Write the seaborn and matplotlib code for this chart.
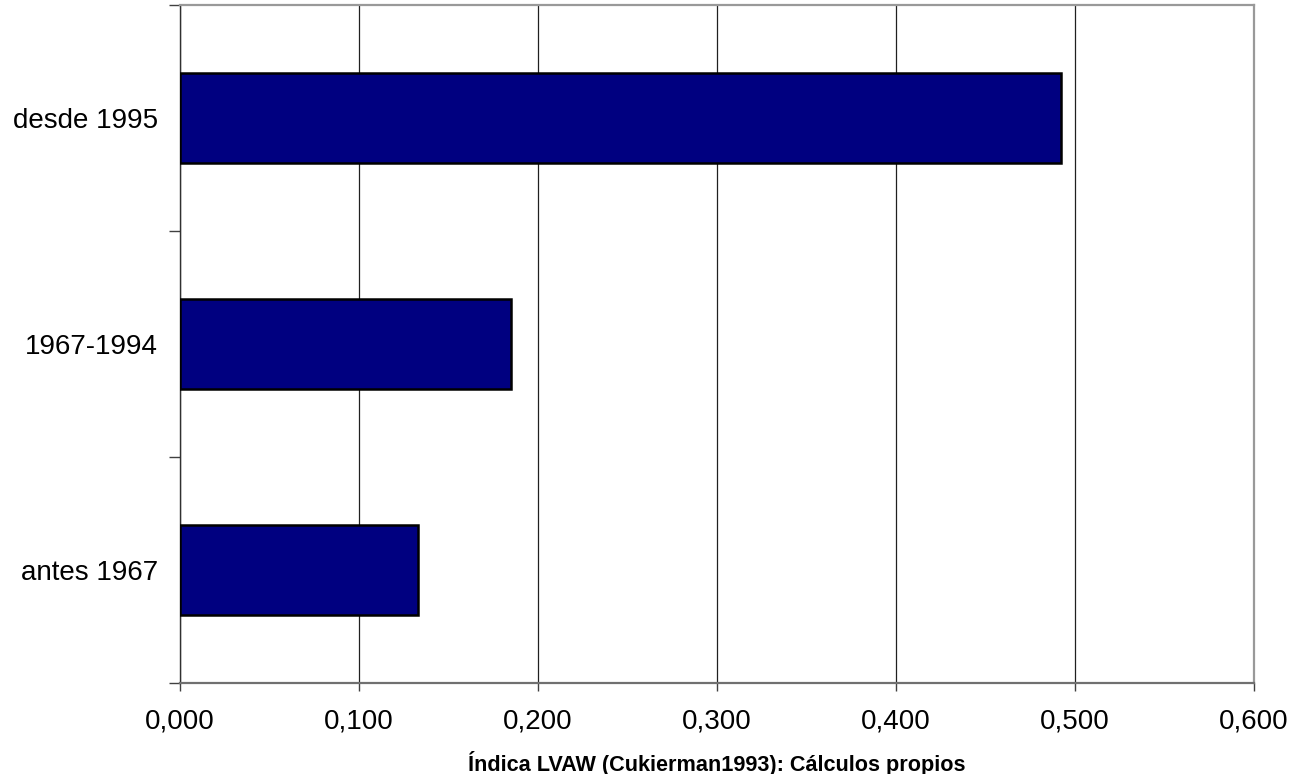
import matplotlib
matplotlib.use("Agg")
import matplotlib.pyplot as plt
from matplotlib.ticker import FuncFormatter, FixedLocator, MultipleLocator
import seaborn as sns
import pandas as pd

# Period labels (top to bottom) and LVAW index values
periods = ["desde 1995", "1967-1994", "antes 1967"]
lvaw = [0.492, 0.185, 0.133]

x_label = "Índica LVAW (Cukierman1993): Cálculos propios"

sns.set_theme(style="white")
plt.rcParams["font.family"] = ["Liberation Sans", "DejaVu Sans"]

df = pd.DataFrame({"periodo": periods, "lvaw": lvaw})

fig = plt.figure(figsize=(12.94, 7.74), dpi=100)
ax = fig.add_axes([180 / 1294, 1 - 683 / 774, (1254 - 180) / 1294, (683 - 5) / 774])

sns.barplot(data=df, x="lvaw", y="periodo", orient="h", order=periods,
            color="#000080", saturation=1, width=0.40,
            edgecolor="black", linewidth=1.8, ax=ax, zorder=3)

ax.set_xlim(0, 0.6)
ax.set_ylim(2.5, -0.5)

# vertical gridlines at every 0.1
ax.xaxis.set_major_locator(MultipleLocator(0.1))
ax.grid(axis="x", color="#202020", linewidth=0.9, zorder=0)
ax.grid(axis="y", visible=False)
ax.set_axisbelow(True)

ax.xaxis.set_major_formatter(FuncFormatter(lambda v, p: f"{v:.3f}".replace(".", ",")))
ax.tick_params(axis="x", which="major", direction="out", length=6, width=1,
               color="#404040", labelsize=20, labelcolor="black", pad=12, bottom=True)

# category labels at band centres, tick marks on band boundaries
ax.yaxis.set_major_locator(FixedLocator([0, 1, 2]))
ax.set_yticklabels(periods)
ax.yaxis.set_minor_locator(FixedLocator([-0.5, 0.5, 1.5, 2.5]))
ax.tick_params(axis="y", which="major", length=0, labelsize=20, labelcolor="black", pad=16)
ax.tick_params(axis="y", which="minor", direction="out", length=8, width=1,
               color="#404040", left=True)

ax.set_ylabel("")
ax.set_xlabel(x_label, fontsize=15.6, fontweight="bold", color="black", labelpad=12)

for side in ["top", "right"]:
    ax.spines[side].set_color("#999999")
    ax.spines[side].set_linewidth(1.6)
ax.spines["left"].set_color("#303030")
ax.spines["left"].set_linewidth(1.0)
ax.spines["bottom"].set_color("#707070")
ax.spines["bottom"].set_linewidth(1.6)

fig.savefig("out.png", dpi=100)
